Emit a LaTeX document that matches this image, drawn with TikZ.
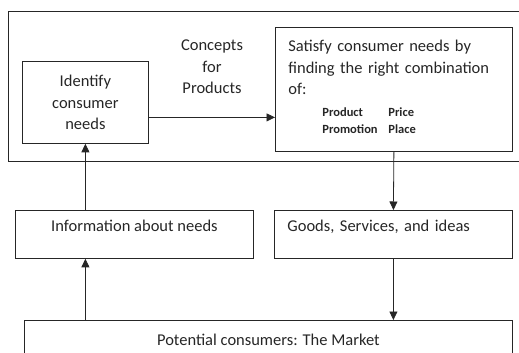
\documentclass[tikz,border=0pt]{standalone}
\usepackage{fontspec}
\setmainfont{Carlito}
\usetikzlibrary{positioning, calc, arrows.meta}

\begin{document}
\begin{tikzpicture}[x=1pt, y=-1pt, line width=0.8pt, black!85,
    every node/.style={text=black!85, font=\fontsize{16.5}{21.5}\selectfont},
    box/.style={draw, inner sep=0pt},
    flow/.style={-{Triangle[length=8.5pt, width=8pt]}}]
    \useasboundingbox (0,0) rectangle (519,353);
    \clip (0,0) rectangle (519,353);
    % frame round the top row
    \node[box, anchor=north west, minimum width=525pt, minimum height=150pt] (frame) at (8,11) {};
    \node[box, anchor=north west, minimum width=126pt, minimum height=82pt, align=center] (need) at (22,61)
        {Identify\\consumer\\needs};
    \node[align=center] (concept) at (212,67) {Concepts\\for\\Products};
    \node[box, anchor=north west, minimum width=237pt, minimum height=124pt,
          text width=211pt, inner xsep=13pt, align=left] (mix) at (275,27)
        {Satisfy consumer needs by\\finding the right combination\\of:\\
         {\fontsize{12.5}{17}\selectfont\bfseries
          \begin{tabular}[t]{@{\hspace*{34pt}}p{66pt}@{}l}
          Product & Price\\
          Promotion & Place
          \end{tabular}}};
    % middle row
    \node[box, anchor=north west, minimum width=238pt, minimum height=48pt,
          text height=14pt, text depth=20pt, inner ysep=7pt] (info) at (15,210)
        {Information about needs};
    \node[box, anchor=north west, minimum width=238pt, minimum height=48pt,
          text height=14pt, text depth=20pt, inner ysep=7pt,
          text width=212pt, inner xsep=13pt, align=left] (goods) at (274,210)
        {Goods, Services, and ideas};
    % the market
    \node[box, anchor=north west, minimum width=488pt, minimum height=56pt,
          text height=15pt, text depth=20pt, inner ysep=7pt] (market) at (24,320)
        {Potential consumers: The Market};
    \draw[flow] ([yshift=-15pt]need.east) -- ([yshift=-15pt]need.east -| mix.west);
    \draw[flow] (mix.south) -- (goods.north);
    \draw[flow] (goods.south) -- (market.north -| goods.south);
    \draw[flow] (market.north -| need.south) -- (info.south -| need.south);
    \draw[flow] (info.north -| need.south) -- (need.south);
\end{tikzpicture}
\end{document}
